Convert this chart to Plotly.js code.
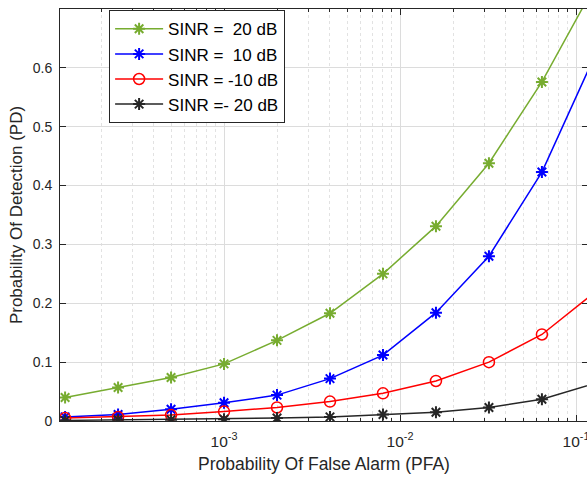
<!DOCTYPE html>
<html>
<head>
<meta charset="utf-8">
<script src="https://cdn.plot.ly/plotly-3.0.1.min.js"></script>
<style>
  html, body { margin: 0; padding: 0; overflow: hidden; background: #fff; }
  #chart { width: 590px; height: 480px; }
</style>
</head>
<body>
<div id="chart"></div>
<script>
// Probability of false alarm (x) shared by all curves
const pfa = [1.25e-4, 2.5e-4, 5e-4, 1e-3, 2e-3, 4e-3, 8e-3, 0.016, 0.032, 0.064, 0.128];

// Probability of detection for each SINR level
const pd20  = [0.040, 0.057, 0.074, 0.097, 0.137, 0.183, 0.250, 0.331, 0.438, 0.576, 0.740];
const pd10  = [0.007, 0.011, 0.020, 0.031, 0.044, 0.072, 0.112, 0.184, 0.280, 0.423, 0.621];
const pdm10 = [0.005, 0.007, 0.010, 0.016, 0.023, 0.033, 0.047, 0.068, 0.100, 0.147, 0.219];
const pdm20 = [0.001, 0.002, 0.002, 0.003, 0.005, 0.007, 0.011, 0.015, 0.023, 0.037, 0.064];

const seriesNames = ['SINR =\u00a0\u00a020 dB', 'SINR =\u00a0\u00a010 dB', 'SINR = -10 dB', 'SINR =- 20 dB'];
const seriesData = [pd20, pd10, pdm10, pdm20];
const seriesColors = ['#77AC30', '#0000FF', '#FF0000', '#262626'];
const seriesSymbols = ['asterisk-open', 'asterisk-open', 'circle-open', 'asterisk-open'];

// Axis tick labels
const xTickVals = [1e-3, 1e-2, 1e-1];
const xTickText = ['10<sup>-3</sup>', '10<sup>-2</sup>', '10<sup>-1</sup>'];
const yTickVals = [0, 0.1, 0.2, 0.3, 0.4, 0.5, 0.6];
const yTickText = ['0', '0.1', '0.2', '0.3', '0.4', '0.5', '0.6'];

// minor ticks at 2..9 of every decade
const xMinor = [];
[-4, -3, -2, -1].forEach(e => {
  for (let m = 2; m <= 9; m++) xMinor.push(m * Math.pow(10, e));
});

const traces = seriesData.map((y, i) => ({
  x: pfa,
  y: y,
  name: seriesNames[i],
  type: 'scatter',
  mode: 'lines+markers',
  cliponaxis: true,
  line: { color: seriesColors[i], width: 1.5 },
  marker: {
    symbol: seriesSymbols[i],
    size: seriesSymbols[i] === 'circle-open' ? 11 : 10,
    color: seriesColors[i],
    line: { color: seriesColors[i], width: seriesSymbols[i] === 'circle-open' ? 1.5 : 2 }
  }
}));

const font = 'Liberation Sans, Arial, Helvetica, sans-serif';
const axisColor = '#262626';

const layout = {
  width: 590,
  height: 480,
  margin: { l: 60, r: 2, t: 9, b: 59 },
  paper_bgcolor: '#fff',
  plot_bgcolor: '#fff',
  font: { family: font, size: 14, color: axisColor },
  showlegend: true,
  legend: {
    x: 0.093, y: 0.997, xanchor: 'left', yanchor: 'top',
    bgcolor: '#fff', bordercolor: axisColor, borderwidth: 1,
    font: { family: font, size: 17, color: '#000' },
    itemwidth: 48,
    tracegroupgap: 0
  },
  xaxis: {
    type: 'log',
    range: [-3.932, -0.932],
    tickmode: 'array',
    tickvals: xTickVals,
    ticktext: xTickText,
    ticks: 'inside', ticklen: 6, tickcolor: axisColor,
    showline: true, linecolor: axisColor, linewidth: 1, mirror: 'allticks',
    showgrid: true, gridcolor: '#dcdcdc', gridwidth: 1,
    zeroline: false,
    tickfont: { family: font, size: 15.5, color: axisColor },
    ticklabelstandoff: 6,
    minor: {
      tickmode: 'array', tickvals: xMinor,
      ticks: 'inside', ticklen: 3, tickcolor: axisColor,
      showgrid: true, gridcolor: '#e2e2e2', griddash: 'dot', gridwidth: 1
    },
    title: { text: 'Probability Of False Alarm (PFA)', font: { family: font, size: 17.5, color: axisColor }, standoff: 9 }
  },
  yaxis: {
    range: [0, 0.7],
    tickmode: 'array',
    tickvals: yTickVals,
    ticktext: yTickText,
    ticks: 'inside', ticklen: 6, tickcolor: axisColor,
    showline: true, linecolor: axisColor, linewidth: 1, mirror: 'allticks',
    showgrid: true, gridcolor: '#dcdcdc', gridwidth: 1,
    zeroline: false,
    tickfont: { family: font, size: 14, color: axisColor },
    ticklabelstandoff: 4,
    title: { text: 'Probability Of Detection (PD)', font: { family: font, size: 17, color: axisColor }, standoff: 5 }
  }
};

Plotly.newPlot('chart', traces, layout, { displayModeBar: false, staticPlot: true });
</script>
</body>
</html>
